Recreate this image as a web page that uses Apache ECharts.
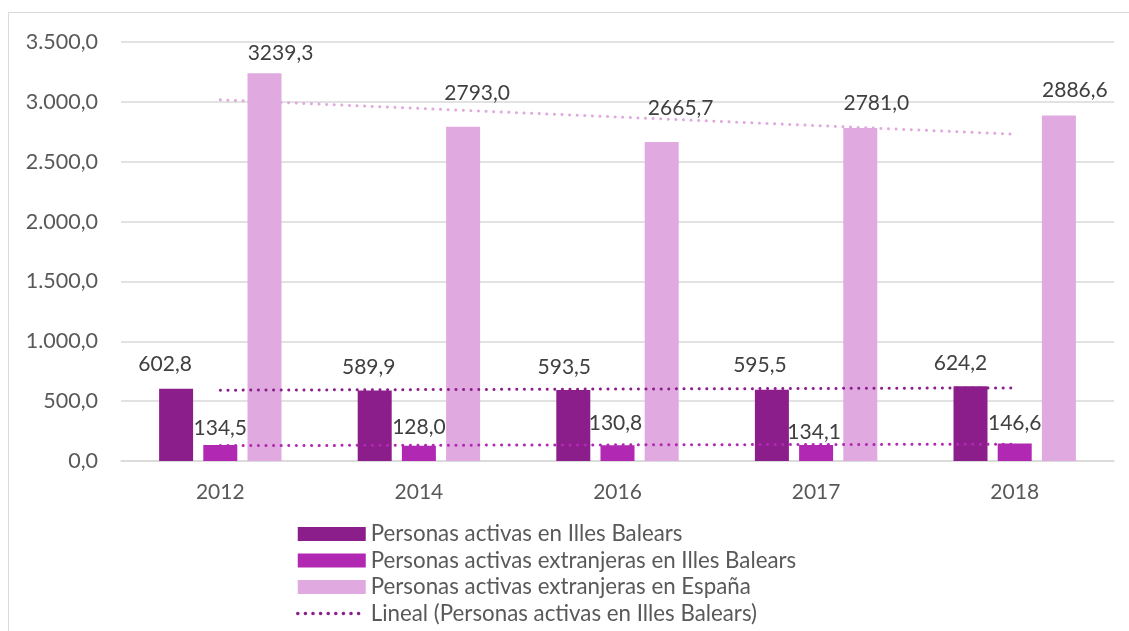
<!DOCTYPE html>
<html>
<head>
<meta charset="utf-8">
<script src="https://cdn.jsdelivr.net/npm/echarts@6/dist/echarts.min.js"></script>
<style>
  html, body { margin: 0; padding: 0; background: #fff; }
  #chart { width: 1129px; height: 631px; }
</style>
</head>
<body>
<div id="chart"></div>
<script>
// datos
const years = ['2012', '2014', '2016', '2017', '2018']
const activasBaleares = [602.8, 589.9, 593.5, 595.5, 624.2]
const extranjerasBaleares = [134.5, 128.0, 130.8, 134.1, 146.6]
const extranjerasEspana = [3239.3, 2793.0, 2665.7, 2781.0, 2886.6]
// lineas de tendencia (extremos)
const tendActivas = [591.5, 610.9]
const tendExtBaleares = [128.7, 140.9]
const tendExtEspana = [3017, 2730]

const names = [
  'Personas activas en Illes Balears',
  'Personas activas extranjeras en Illes Balears',
  'Personas activas extranjeras en España',
  'Lineal (Personas activas en Illes Balears)'
]

const colors = ['#8B1E8B', '#B129B2', '#E0AAE0']
const font = 'Lato'

// posicion de etiquetas (como en Excel, algo desplazadas)
const offDark = [[-11, 25], [-6, 23], [-9, 23], [-12, 24], [-10, 23]]
const offMid = [[0, 17], [0, 18], [-2, 22], [-2, 13], [0, 20]]
const offLight = [[16, 20], [14, 33], [19, 34], [16, 25], [16, 25]]

function fmtLabel(v) {
  return v.toFixed(1).replace('.', ',')
}
function fmtAxis(v) {
  const s = v.toFixed(1).split('.')
  return s[0].replace(/\B(?=(\d{3})+(?!\d))/g, '.') + ',' + s[1]
}
function withLabels(values, offs) {
  return values.map((v, i) => ({
    value: v,
    label: { distance: offs[i][1] - 10.5, offset: [offs[i][0], 0] }
  }))
}
function trend(ends) {
  return [ends[0], null, null, null, ends[1]]
}

const labelStyle = {
  show: true,
  position: 'top',
  color: '#404040',
  fontFamily: font,
  fontSize: 21,
  formatter: p => fmtLabel(p.value)
}

const myChart = echarts.init(document.getElementById('chart'))
myChart.setOption({
  backgroundColor: '#fff',
  animation: false,
  graphic: [{
    type: 'rect',
    shape: { x: 8.5, y: 12.5, width: 1200, height: 700 },
    style: { fill: 'none', stroke: '#D9D9D9', lineWidth: 1 },
    silent: true
  }],
  grid: { left: 121, right: 15, top: 42, bottom: 170 },
  legend: {
    orient: 'vertical',
    left: 291,
    top: 518,
    itemWidth: 68,
    itemHeight: 14,
    itemGap: 4.5,
    data: [
      { name: names[0], icon: 'rect' },
      { name: names[1], icon: 'rect' },
      { name: names[2], icon: 'rect' },
      {
        name: names[3],
        itemStyle: { color: 'rgba(0,0,0,0)' },
        lineStyle: { color: colors[0], width: 3.5, type: [0.1, 7.5], cap: 'round' }
      }
    ],
    textStyle: { color: '#595959', fontFamily: font, fontSize: 22.3, padding: [0, 0, 0, 0] }
  },
  xAxis: {
    type: 'category',
    data: years,
    axisTick: { show: false },
    axisLine: { lineStyle: { color: '#D9D9D9', width: 1.5 } },
    axisLabel: { color: '#595959', fontFamily: font, fontSize: 21, margin: 21 }
  },
  yAxis: {
    type: 'value',
    min: 0,
    max: 3500,
    interval: 500,
    axisLine: { show: false },
    axisTick: { show: false },
    splitLine: { lineStyle: { color: '#D9D9D9', width: 1.5 } },
    axisLabel: { color: '#595959', fontFamily: font, fontSize: 21.5, margin: 23, formatter: fmtAxis }
  },
  series: [
    {
      name: names[0], type: 'bar', data: withLabels(activasBaleares, offDark),
      barWidth: 34, barGap: '30%', itemStyle: { color: colors[0] }, label: labelStyle
    },
    {
      name: names[1], type: 'bar', data: withLabels(extranjerasBaleares, offMid),
      barWidth: 34, barGap: '30%', itemStyle: { color: colors[1] }, label: labelStyle
    },
    {
      name: names[2], type: 'bar', data: withLabels(extranjerasEspana, offLight),
      barWidth: 34, barGap: '30%', itemStyle: { color: colors[2] }, label: labelStyle
    },
    {
      name: names[3], type: 'line', data: trend(tendActivas), connectNulls: true,
      symbol: 'none', z: 5,
      itemStyle: { color: colors[0] },
      lineStyle: { color: colors[0], width: 3, type: [0.1, 7.5], cap: 'round' }
    },
    {
      name: 'tendencia extranjeras Baleares', type: 'line', data: trend(tendExtBaleares), connectNulls: true,
      symbol: 'none', z: 5,
      lineStyle: { color: colors[1], width: 3, type: [0.1, 7.5], cap: 'round' }
    },
    {
      name: 'tendencia extranjeras España', type: 'line', data: trend(tendExtEspana), connectNulls: true,
      symbol: 'none', z: 5,
      lineStyle: { color: colors[2], width: 3, type: [0.1, 7.5], cap: 'round' }
    }
  ]
})
</script>
</body>
</html>
